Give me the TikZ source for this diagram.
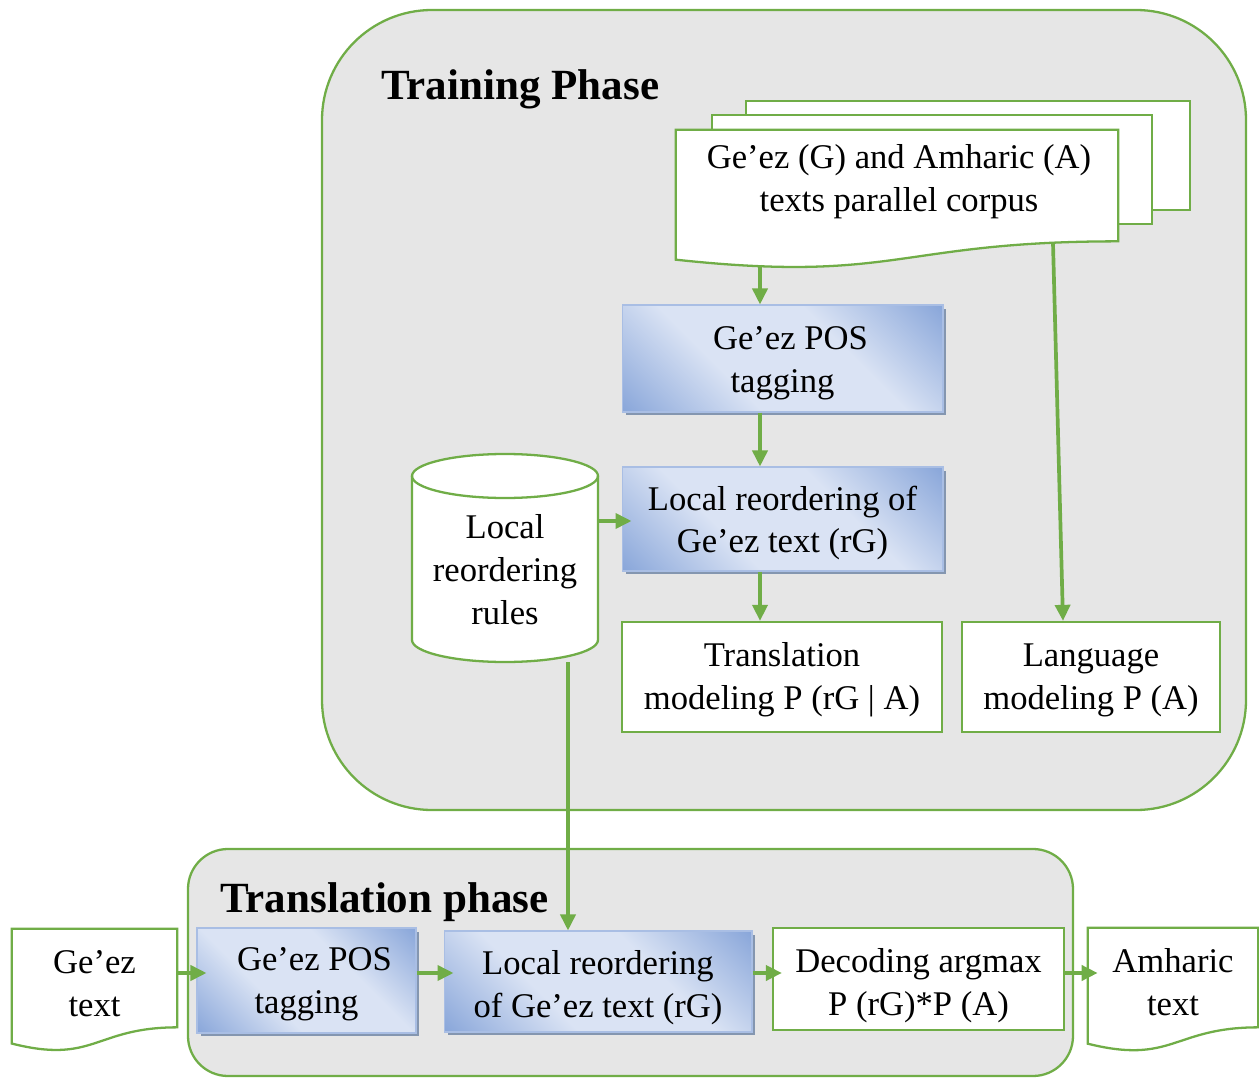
\documentclass[tikz,border=0pt]{standalone}
\usepackage{fontspec}
\setmainfont{Liberation Serif}
\usetikzlibrary{arrows.meta,shadows,calc}
\definecolor{grn}{HTML}{70AD47}
\definecolor{bgc}{HTML}{E6E6E6}
\definecolor{bluelt}{HTML}{DAE3F4}
\definecolor{bluedk}{HTML}{8AA7DA}
\definecolor{blueln}{HTML}{A9BEE4}
\definecolor{shad}{HTML}{8496B0}
\pgfdeclareverticalshading{bluesh}{100bp}{color(0bp)=(bluedk); color(15bp)=(bluedk); color(38bp)=(bluelt); color(62bp)=(bluelt); color(85bp)=(bluedk); color(100bp)=(bluedk)}
\newcommand\mytxt{\fontsize{19.7}{24.4}\selectfont}
\newcommand\drawdoc[2]{%
  \draw[sheet] (#1.north west) -- (#1.north east) -- (#1.south east)
    .. controls (#1.south) and ($(#1.south)+(0,-0.38*#2)$) .. ($(#1.south west)+(0,-0.165*#2)$) -- cycle;}
\tikzset{
  phase/.style={draw=grn, line width=1.3pt, fill=bgc},
  bluebox/.style={draw=blueln, line width=0.6pt, shade, shading=bluesh, shading angle=-45,
    drop shadow={shadow xshift=0.07cm, shadow yshift=-0.07cm, fill=shad, opacity=1},
    inner sep=0pt},
  whitebox/.style={draw=grn, line width=1.3pt, fill=white, inner sep=0pt},
  docsize/.style={inner sep=0pt},
  doctext/.style={align=center, inner sep=0pt, font=\mytxt},
  sheet/.style={draw=grn, line width=1.3pt, fill=white},
  arr/.style={draw=grn, line width=2.1pt, -{Triangle[length=0.32cm, width=0.30cm]}},
  arrh/.style={arr, shorten >=-0.2cm},
  ttl/.style={font=\fontsize{24.5}{28}\selectfont\bfseries, anchor=base west, inner sep=0pt},
}
\begin{document}
\begin{tikzpicture}[x=0.02cm, y=0.02cm]
\useasboundingbox (0,0) rectangle (1259,-1078);
% phases
\draw[phase, rounded corners=2.2cm] (322,-10) rectangle (1246,-810);
\draw[phase, rounded corners=0.8cm] (188,-849) rectangle (1073,-1076);
\node[ttl] (t1) at (381,-100) {Training Phase};
\node[ttl] (t2) at (220,-912) {Translation phase};
% corpus stack
\draw[sheet] (746,-101) rectangle (1190,-210);
\draw[sheet] (712,-115) rectangle (1152,-224);
\path node[docsize, minimum width=8.84cm, minimum height=2.22cm] (corpus) at (897,-185.5) {};
\drawdoc{corpus}{111}
\node[doctext] (corpusT) at (899,-182) {Ge’ez (G) and Amharic (A)\\texts parallel corpus};
% training boxes
\node[bluebox, minimum width=6.42cm, minimum height=2.14cm] (pos) at (782.5,-358.5) {};
\node[doctext] (posT) at (782.5,-363.5) {\hspace*{9pt}Ge’ez POS\\tagging};
\node[bluebox, minimum width=6.42cm, minimum height=2.08cm] (loc) at (782.5,-519) {};
\node[doctext] (locT) at (782.5,-523) {Local reordering of\\Ge’ez text (rG)};
\node[whitebox, minimum width=6.40cm, minimum height=2.20cm] (tm) at (782,-677) {};
\node[doctext] (tmT) at (782,-680) {Translation\\modeling P (rG | A)};
\node[whitebox, minimum width=5.16cm, minimum height=2.20cm] (lang) at (1091,-677) {};
\node[doctext] (langT) at (1091,-680) {Language\\modeling P (A)};
% cylinder
\draw[sheet] (412,-476) -- (412,-640) arc[start angle=180, end angle=360, x radius=1.86cm, y radius=0.44cm]
  -- (598,-476) arc[start angle=0, end angle=180, x radius=1.86cm, y radius=0.44cm] -- cycle;
\draw[draw=grn, line width=1.3pt] (412,-476) arc[start angle=180, end angle=360, x radius=1.86cm, y radius=0.44cm];
\node[doctext] (cyl) at (505,-570) {Local\\reordering\\rules};
% translation phase
\path node[docsize, minimum width=3.30cm, minimum height=1.96cm] (gdoc) at (94.5,-978) {};
\drawdoc{gdoc}{98}
\node[doctext] (gdocT) at (94.5,-984) {Ge’ez\\text};
\node[bluebox, minimum width=4.38cm, minimum height=2.10cm] (tpos) at (306.5,-980.5) {};
\node[doctext] (tposT) at (306.5,-984.5) {\hspace*{9pt}Ge’ez POS\\tagging};
\node[bluebox, minimum width=6.16cm, minimum height=2.02cm] (tloc) at (598,-981.5) {};
\node[doctext] (tlocT) at (598,-987.5) {Local reordering\\of Ge’ez text (rG)};
\node[whitebox, minimum width=5.82cm, minimum height=2.04cm] (dec) at (918.5,-979) {};
\node[doctext] (decT) at (918.5,-986) {Decoding argmax\\P (rG)*P (A)};
\path node[docsize, minimum width=3.40cm, minimum height=1.98cm] (amh) at (1173,-977.5) {};
\drawdoc{amh}{99}
\node[doctext] (amhT) at (1173,-982) {Amharic\\text};
% connectors
\coordinate (c1) at (760,-265);
\draw[arr] (c1) -- (c1 |- pos.north);
\draw[arr] (pos.south -| c1) -- (loc.north -| c1);
\draw[arr] (loc.south -| c1) -- (tm.north -| c1);
\coordinate (c2) at (1053,-243);
\draw[arr] (c2) -- ([xshift=-0.56cm]lang.north);
\coordinate (cylR) at (598,-521);
\draw[arrh] (cylR) -- (cylR -| loc.west);
\coordinate (cylB) at (568,-662);
\draw[arr] (cylB) -- (cylB |- tloc.north);
\coordinate (ya) at (0,-973);
\draw[arrh] (gdoc.east |- ya) -- (tpos.west |- ya);
\draw[arrh] (tpos.east |- ya) -- (tloc.west |- ya);
\draw[arrh] (tloc.east |- ya) -- (dec.west |- ya);
\draw[arrh] (dec.east |- ya) -- (amh.west |- ya);
\end{tikzpicture}
\end{document}
